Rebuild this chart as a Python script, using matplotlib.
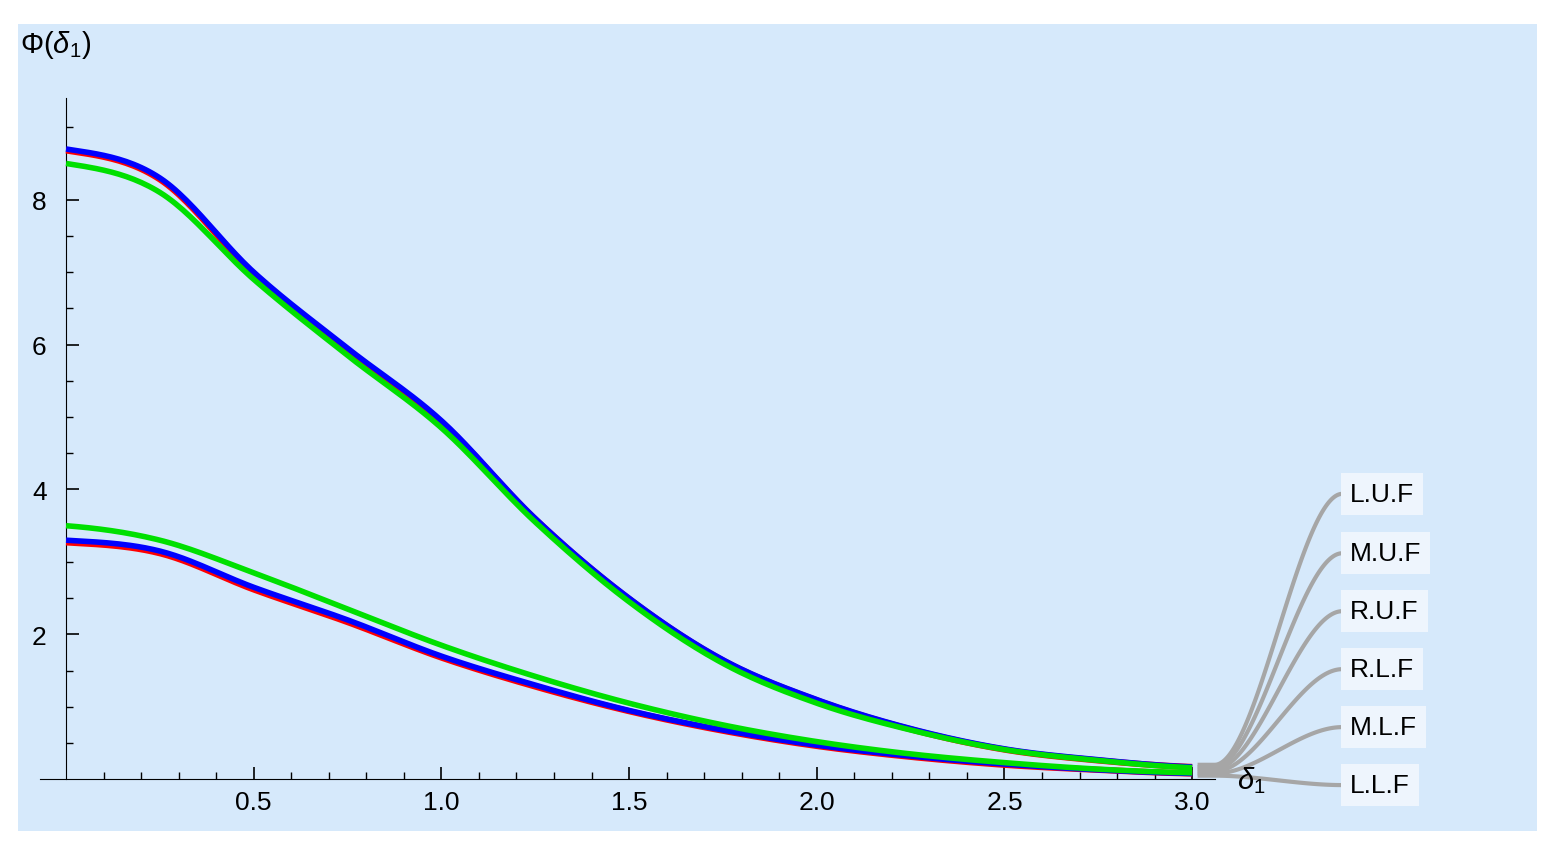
import matplotlib
matplotlib.use("Agg")
import matplotlib.pyplot as plt
import numpy as np
from matplotlib.patches import Rectangle

plt.rcParams['font.family'] = ['Liberation Sans', 'DejaVu Sans']
plt.rcParams['mathtext.fontset'] = 'custom'
plt.rcParams['mathtext.rm'] = 'Liberation Sans'
plt.rcParams['mathtext.it'] = 'Liberation Sans:italic'

x = [0, 0.25, 0.5, 0.75, 1.0, 1.25, 1.5, 1.75, 2.0, 2.25, 2.5, 2.75, 3.0]
upper_blue = [8.7, 8.3, 7.0, 5.95, 4.95, 3.6, 2.5, 1.65, 1.1, 0.7, 0.42, 0.27, 0.17]
upper_red = [8.68, 8.28, 6.98, 5.93, 4.93, 3.59, 2.49, 1.64, 1.09, 0.69, 0.41, 0.26, 0.17]
upper_green = [8.5, 8.1, 6.9, 5.85, 4.85, 3.55, 2.45, 1.6, 1.05, 0.68, 0.41, 0.26, 0.16]
lower_blue = [3.3, 3.15, 2.65, 2.2, 1.7, 1.3, 0.95, 0.68, 0.47, 0.32, 0.21, 0.13, 0.08]
lower_red = [3.27, 3.12, 2.62, 2.17, 1.68, 1.28, 0.94, 0.67, 0.46, 0.31, 0.2, 0.13, 0.08]
lower_green = [3.5, 3.3, 2.85, 2.35, 1.85, 1.42, 1.05, 0.75, 0.52, 0.35, 0.23, 0.14, 0.09]
labels = ["L.U.F", "M.U.F", "R.U.F", "R.L.F", "M.L.F", "L.L.F"]
label_y = [3.94, 3.12, 2.32, 1.52, 0.72, -0.08]

W, H = 1557, 853
fig = plt.figure(figsize=(W/100, H/100), dpi=100, facecolor='white')
fig.patches.append(Rectangle((18/W, (H-832)/H), (1537-18)/W, (832-25)/H,
                             transform=fig.transFigure, facecolor='#d6e9fb', edgecolor='none', zorder=-10))
ax = fig.add_axes([21/W, (H-831)/H, 1509/W, (831-92)/H])
ax.set_facecolor('none')
ax.set_zorder(5)
ax.set_xlim(-0.12, 3.9)
ax.set_ylim(-0.7, 9.5)

xs = np.linspace(0, 3, 300)
def sm(v):
    xa = np.array(x); va = np.array(v)
    out = []
    for t in xs:
        i = min(int(t/0.25), len(xa)-2)
        u = (t - xa[i]) / 0.25
        p0 = va[max(i-1, 0)]; p1 = va[i]; p2 = va[i+1]; p3 = va[min(i+2, len(va)-1)]
        out.append(0.5*((2*p1) + (-p0+p2)*u + (2*p0-5*p1+4*p2-p3)*u**2 + (-p0+3*p1-3*p2+p3)*u**3))
    return np.array(out)

for vals, c, lw in [(upper_red, 'red', 4.5), (upper_blue, 'blue', 4.0), (upper_green, '#00e000', 4.0),
                    (lower_red, 'red', 4.5), (lower_blue, 'blue', 4.0), (lower_green, '#00e000', 4.0)]:
    ax.plot(xs, sm(vals), color=c, lw=lw, solid_capstyle='butt', zorder=3)

starts = [0.2, 0.17, 0.14, 0.11, 0.08, 0.05]
for s, ly, lab in zip(starts, label_y, labels):
    t = np.linspace(0, 1, 100)
    xc = np.concatenate([[3.02], 3.06 + (3.4 - 3.06) * t])
    ss = 3*t**2 - 2*t**3
    yc = np.concatenate([[s], s + (ly - s) * ss])
    ax.plot(xc, yc, color='#a6a6a6', lw=3, zorder=2, clip_on=False)
    ax.text(3.42, ly, lab, fontsize=19, va='center', ha='left', zorder=4,
            bbox=dict(boxstyle='square,pad=0.35', facecolor='#eef5fd', edgecolor='none'))

for sp in ['top', 'right']:
    ax.spines[sp].set_visible(False)
ax.spines['left'].set_position(('data', 0))
ax.spines['bottom'].set_position(('data', 0))
ax.spines['left'].set_bounds(0, 9.4)
ax.spines['bottom'].set_bounds(-0.07, 3.06)
ax.set_xticks([0.5, 1.0, 1.5, 2.0, 2.5, 3.0])
ax.set_xticklabels(['0.5', '1.0', '1.5', '2.0', '2.5', '3.0'])
ax.set_yticks([2, 4, 6, 8])
ax.set_xticks(np.arange(0.1, 3.01, 0.1), minor=True)
ax.set_yticks(np.arange(0.5, 9.4, 0.5), minor=True)
ax.tick_params(axis='both', which='major', direction='in', length=9, width=1.2, labelsize=19)
ax.tick_params(axis='both', which='minor', direction='in', length=5, width=1)
ax.tick_params(axis='y', pad=14)
ax.tick_params(axis='x', pad=8)
ax.text(3.12, 0.0, r'$\delta_1$', fontsize=21, va='center', ha='left')
fig.text(20/W, 1 - 45/H, r'$\Phi(\delta_1)$', fontsize=21, va='center', ha='left')
fig.savefig('out.png', dpi=100, facecolor='white')
